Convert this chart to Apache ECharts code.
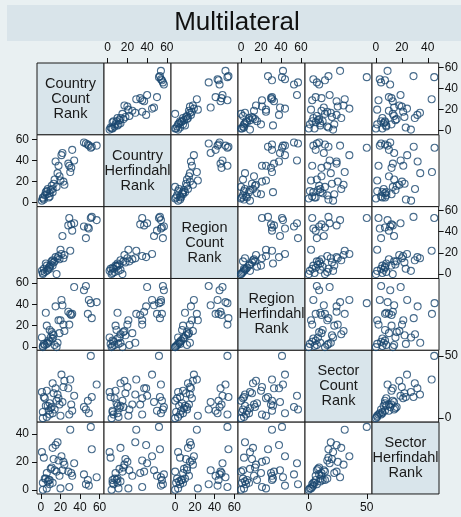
<!DOCTYPE html>
<html><head><meta charset="utf-8">
<script src="https://cdn.jsdelivr.net/npm/echarts@6/dist/echarts.min.js"></script>
<style>html,body{margin:0;padding:0;background:#e9f0f2;}#c{width:461px;height:517px;}</style>
</head><body><div id="c"></div>
<script>
const chartTitle = 'Multilateral';
const varNames = ['Country\nCount\nRank','Country\nHerfindahl\nRank','Region\nCount\nRank','Region\nHerfindahl\nRank','Sector\nCount\nRank','Sector\nHerfindahl\nRank'];

const countryCountRank = [44,46,48,49,51,52,57, 28,29,30,32,34,31, 1,2,3,4,5,6,7,8,9,10,11,12,13,14,15,16,17,18,19,20,21,22,23,24,2,6,9,12];
const countryHerfRank  = [57,56,55,54,52,53,54, 37,35,29,50,40,33, 2,5,3,7,10,8,13,5,9,12,16,13,18,22,39,15,28,35,25,21,45,47,20,17,4,11,6,10];
const regionCountRank  = [45,34,44,43,53,54,51, 46,53,22,41,48,47, 3,1,5,2,10,8,4,6,7,9,12,13,11,12,16,0,15,17,14,23,19,36,15,18,0,3,5,8];
const regionHerfRank   = [53,57,31,44,41,27,42, 33,21,31,31,56,30, 9,1,3,2,32,20,4,6,16,9,14,12,11,2,38,0,4,25,13,25,44,39,21,15,0,3,5,8];
const sectorCountRank  = [9,7,14,4,50,17,27, 24,3,31,6,18,11, 21,5,17,16,10,22,10,6,12,8,9,28,20,7,24,14,19,16,11,2,35,13,25,30,0,1,3,4];
const sectorHerfRank   = [11,4,7,3,45,29,9, 13,2,43,10,19,12, 27,5,23,8,8,12,6,7,7,15,16,30,22,14,32,13,34,21,10,1,24,14,20,18,0,1,4,5];

const ticksRank = [0,20,40,60];
const ticksSectorCount = [0,50];
const ticksSectorHerf = [0,20,40];

const vars = [countryCountRank,countryHerfRank,regionCountRank,regionHerfRank,sectorCountRank,sectorHerfRank];
const ticks = [ticksRank,ticksRank,ticksRank,ticksRank,ticksSectorCount,ticksSectorHerf];
const axisMin = [-4,-3.7,-4.2,-3,-3.2,-3];
const axisMax = [64.5,64.2,63.7,64,54.5,48.4];

const FONT = '"Liberation Sans", Arial, sans-serif';
const L0 = 37, T0 = 63, W = 67, H = 71.83;
const grids = [], xAxes = [], yAxes = [], series = [], graphics = [];

graphics.push({type:'rect', shape:{x:7,y:5,width:454,height:36}, style:{fill:'#d9e4ea'}, silent:true});
graphics.push({type:'text', x:237, y:23, style:{text:chartTitle, font:'26px '+FONT, fill:'#111', textAlign:'center', textVerticalAlign:'middle'}, silent:true});

for (let i = 0; i < 6; i++) {
  for (let j = 0; j < 6; j++) {
    const k = grids.length;
    const diag = i === j;
    grids.push({left:L0+j*W, top:T0+i*H, width:W, height:H, show:true,
      borderColor:'#1a1a1a', borderWidth:1, backgroundColor: diag ? '#d9e5eb' : '#ffffff'});
    const showX = !diag && ((i === 0 && j % 2 === 1) || (i === 5 && j % 2 === 0));
    const showY = !diag && ((j === 0 && i % 2 === 1) || (j === 5 && i % 2 === 0));
    xAxes.push({gridIndex:k, type:'value', min:axisMin[j], max:axisMax[j],
      position: i === 0 ? 'top' : 'bottom',
      axisLine:{show:false, onZero:false}, splitLine:{show:false},
      axisTick:{show:showX, length:5, customValues:ticks[j], lineStyle:{color:'#111'}},
      axisLabel:{show:showX, customValues:ticks[j], margin: i === 0 ? 9 : 8, fontSize:12, color:'#111', fontFamily:FONT}});
    yAxes.push({gridIndex:k, type:'value', min:axisMin[i], max:axisMax[i],
      position: j === 0 ? 'left' : 'right',
      axisLine:{show:false, onZero:false}, splitLine:{show:false},
      axisTick:{show:showY, length:5, customValues:ticks[i], lineStyle:{color:'#111'}},
      axisLabel:{show:showY, customValues:ticks[i], margin: j === 0 ? 8 : 6, fontSize:12, color:'#111', fontFamily:FONT}});
    if (diag) {
      graphics.push({type:'text', x:L0+j*W+W/2, y:T0+i*H+H/2,
        style:{text:varNames[i], font:'14.5px '+FONT, fill:'#1a1a1a', textAlign:'center', textVerticalAlign:'middle', lineHeight:15},
        silent:true});
    } else {
      series.push({type:'scatter', xAxisIndex:k, yAxisIndex:k, symbol:'circle', symbolSize:7,
        itemStyle:{color:'rgba(0,0,0,0)', borderColor:'#1a476f', borderWidth:1.1},
        data: vars[j].map((x, n) => [x, vars[i][n]]), silent:true});
    }
  }
}

const chart = echarts.init(document.getElementById('c'));
chart.setOption({backgroundColor:'#e9f0f2', animation:false,
  grid:grids, xAxis:xAxes, yAxis:yAxes, series:series, graphic:graphics});
</script></body></html>
